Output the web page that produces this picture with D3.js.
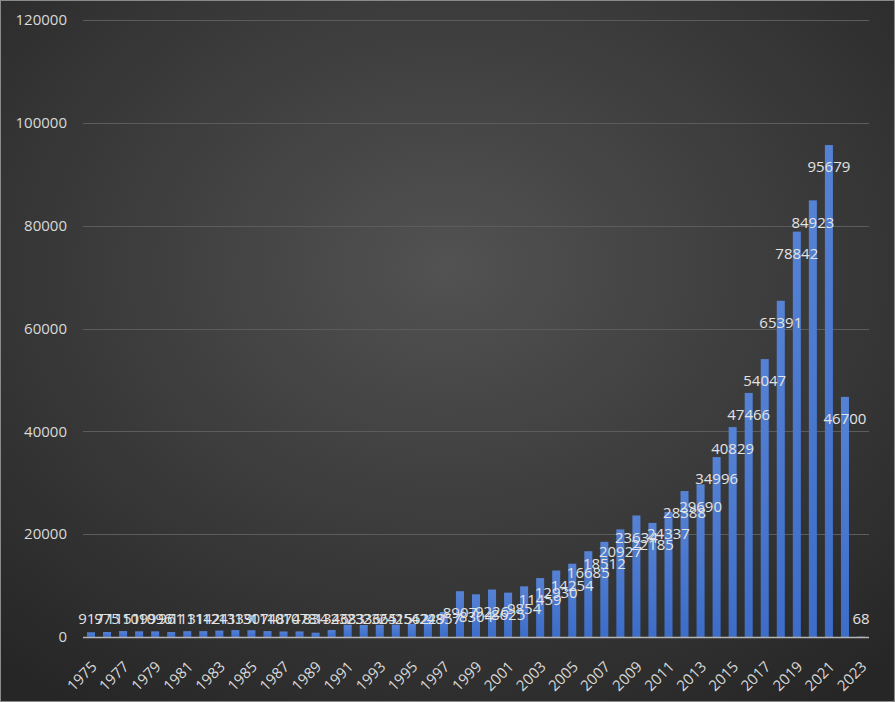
<!DOCTYPE html>
<html>
<head>
<meta charset="utf-8">
<script src="https://cdn.jsdelivr.net/npm/d3@7"></script>
<style>
  html, body { margin: 0; padding: 0; background: #2b2b2b; }
  svg { display: block; }
  text { font-family: "Open Sans", "Noto Sans", sans-serif; }
</style>
</head>
<body>
<svg id="chart" width="895" height="702"></svg>
<script>
const years = d3.range(1975, 2024).map(String);
const values = [
  917, 975, 1151, 1099, 1096, 961, 1131, 1142, 1241, 1339,
  1307, 1148, 1074, 1078, 834, 1346, 2383, 2336, 2365, 2415,
  2562, 4229, 4857, 8907, 8304, 9226, 8625, 9854, 11459, 12930,
  14254, 16685, 18512, 20927, 23634, 22185, 24337, 28388, 29690, 34996,
  40829, 47466, 54047, 65391, 78842, 84923, 95679, 46700, 68
];
const yTicks = [0, 20000, 40000, 60000, 80000, 100000, 120000];
const xTickLabels = years.filter((d, i) => i % 2 === 0);

const W = 895, H = 702;
const margin = { left: 83, right: 26, top: 20, bottom: 65 };
const svg = d3.select("#chart");

const defs = svg.append("defs");
const rg = defs.append("radialGradient").attr("id", "bg")
  .attr("cx", "50%").attr("cy", "38%").attr("r", "75%");
rg.append("stop").attr("offset", "0%").attr("stop-color", "#525252");
rg.append("stop").attr("offset", "100%").attr("stop-color", "#262626");
const bg = defs.append("linearGradient").attr("id", "bar")
  .attr("x1", 0).attr("y1", 0).attr("x2", 0).attr("y2", 1);
bg.append("stop").attr("offset", "0%").attr("stop-color", "#5582d4");
bg.append("stop").attr("offset", "100%").attr("stop-color", "#3d6dc9");

svg.append("rect").attr("x", 0.5).attr("y", 0.5).attr("width", W - 1).attr("height", H - 1)
  .attr("fill", "url(#bg)").attr("stroke", "#8a8a8a").attr("stroke-width", 1);

const x = d3.scaleBand().domain(years)
  .range([margin.left, W - margin.right]).paddingInner(0.5).paddingOuter(0.25);
const y = d3.scaleLinear().domain([0, 120000]).range([H - margin.bottom, margin.top]);

// gridlines
svg.append("g").selectAll("line").data(yTicks.filter(d => d > 0)).join("line")
  .attr("x1", margin.left).attr("x2", W - margin.right)
  .attr("y1", d => Math.round(y(d)) + 0.5).attr("y2", d => Math.round(y(d)) + 0.5)
  .attr("stroke", "#5c5c5c").attr("stroke-width", 1);

// y axis labels
const yAxis = d3.axisLeft(y).tickValues(yTicks).tickSize(0).tickPadding(0).tickFormat(d3.format("d"));
const gy = svg.append("g").attr("transform", `translate(${margin.left - 16},0)`).call(yAxis);
gy.select(".domain").remove();
gy.selectAll("text").attr("fill", "#d9d9d9").style("font-size", "15px")
  .style("font-family", "'Open Sans', sans-serif");

// bars
svg.append("g").selectAll("rect").data(values).join("rect")
  .attr("x", (d, i) => x(years[i]))
  .attr("width", x.bandwidth())
  .attr("y", d => y(d))
  .attr("height", d => y(0) - y(d))
  .attr("fill", "url(#bar)");

// x axis line
svg.append("line")
  .attr("x1", margin.left).attr("x2", W - margin.right)
  .attr("y1", y(0) + 0.5).attr("y2", y(0) + 0.5)
  .attr("stroke", "#b5b5b5").attr("stroke-width", 1.5);

// x tick labels
const xAxis = d3.axisBottom(x).tickValues(xTickLabels).tickSize(0).tickPadding(0);
const gx = svg.append("g").attr("transform", `translate(0,${y(0)})`).call(xAxis);
gx.select(".domain").remove();
gx.selectAll("text")
  .attr("fill", "#d9d9d9").style("font-size", "15px")
  .style("font-family", "'Open Sans', sans-serif")
  .attr("text-anchor", "end")
  .attr("dy", "0.35em")
  .attr("transform", "translate(3,27) rotate(-45)");

// data labels
svg.append("g").selectAll("text").data(values).join("text")
  .attr("x", (d, i) => x(years[i]) + x.bandwidth() / 2)
  .attr("y", d => Math.min(y(d) + 22, y(0) - 18))
  .attr("dy", "0.35em")
  .attr("text-anchor", "middle")
  .attr("fill", "#e3e3e3")
  .style("font-size", "15px")
  .text(d => d);
</script>
</body>
</html>
